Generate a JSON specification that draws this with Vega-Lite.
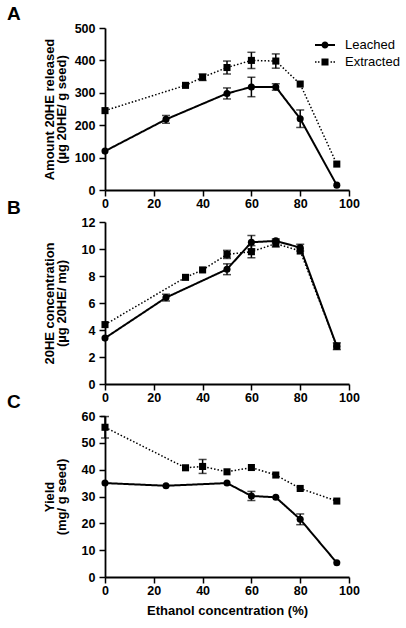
{
  "$schema": "https://vega.github.io/schema/vega-lite/v6.json",
  "autosize": {"type": "pad"},
  "padding": {"left": 7, "top": 5, "right": 5, "bottom": 5},
  "background": "white",
  "config": {
    "view": {"stroke": null},
    "font": "Liberation Sans",
    "axis": {
      "domainColor": "black", "domainWidth": 1.8, "tickColor": "black", "tickWidth": 1.5, "tickSize": 6,
      "labelFont": "Liberation Sans", "labelFontSize": 12.5, "labelFontWeight": "bold", "labelColor": "black",
      "titleFont": "Liberation Sans", "titleFontSize": 13, "titleFontWeight": "bold", "titleColor": "black",
      "grid": false, "labelFlush": false, "labelOverlap": false
    },
    "axisX": {"labelPadding": 1},
    "axisY": {"labelPadding": 4, "titleX": -52, "titleAngle": -90, "titleAlign": "center", "titleBaseline": "alphabetic", "titleLineHeight": 12.5}
  },
  "datasets": {
    "d": [
      {"panel": "A", "group": "Leached", "x": 0, "y": 120},
      {"panel": "A", "group": "Leached", "x": 25, "y": 218, "lo": 206, "hi": 230},
      {"panel": "A", "group": "Leached", "x": 50, "y": 298, "lo": 281, "hi": 315},
      {"panel": "A", "group": "Leached", "x": 60, "y": 318, "lo": 288, "hi": 348},
      {"panel": "A", "group": "Leached", "x": 70, "y": 318, "lo": 308, "hi": 328},
      {"panel": "A", "group": "Leached", "x": 80, "y": 220, "lo": 193, "hi": 247},
      {"panel": "A", "group": "Leached", "x": 95, "y": 15},
      {"panel": "A", "group": "Extracted", "x": 0, "y": 245},
      {"panel": "A", "group": "Extracted", "x": 33, "y": 323},
      {"panel": "A", "group": "Extracted", "x": 40, "y": 348, "lo": 338, "hi": 358},
      {"panel": "A", "group": "Extracted", "x": 50, "y": 378, "lo": 358, "hi": 398},
      {"panel": "A", "group": "Extracted", "x": 60, "y": 400, "lo": 375, "hi": 425},
      {"panel": "A", "group": "Extracted", "x": 70, "y": 398, "lo": 376, "hi": 420},
      {"panel": "A", "group": "Extracted", "x": 80, "y": 327},
      {"panel": "A", "group": "Extracted", "x": 95, "y": 80},
      {"panel": "B", "group": "Leached", "x": 0, "y": 3.4},
      {"panel": "B", "group": "Leached", "x": 25, "y": 6.4, "lo": 6.15, "hi": 6.65},
      {"panel": "B", "group": "Leached", "x": 50, "y": 8.5, "lo": 8.1, "hi": 8.9},
      {"panel": "B", "group": "Leached", "x": 60, "y": 10.5, "lo": 10.0, "hi": 11.0},
      {"panel": "B", "group": "Leached", "x": 70, "y": 10.6, "lo": 10.45, "hi": 10.75},
      {"panel": "B", "group": "Leached", "x": 80, "y": 10.1, "lo": 9.85, "hi": 10.35},
      {"panel": "B", "group": "Leached", "x": 95, "y": 2.8, "lo": 2.55, "hi": 3.05},
      {"panel": "B", "group": "Extracted", "x": 0, "y": 4.4},
      {"panel": "B", "group": "Extracted", "x": 33, "y": 7.9},
      {"panel": "B", "group": "Extracted", "x": 40, "y": 8.45},
      {"panel": "B", "group": "Extracted", "x": 50, "y": 9.6, "lo": 9.3, "hi": 9.9},
      {"panel": "B", "group": "Extracted", "x": 60, "y": 9.8, "lo": 9.35, "hi": 10.25},
      {"panel": "B", "group": "Extracted", "x": 70, "y": 10.4, "lo": 10.15, "hi": 10.65},
      {"panel": "B", "group": "Extracted", "x": 80, "y": 9.85},
      {"panel": "B", "group": "Extracted", "x": 95, "y": 2.8},
      {"panel": "C", "group": "Leached", "x": 0, "y": 35},
      {"panel": "C", "group": "Leached", "x": 25, "y": 34},
      {"panel": "C", "group": "Leached", "x": 50, "y": 35},
      {"panel": "C", "group": "Leached", "x": 60, "y": 30.2, "lo": 28.5, "hi": 31.9},
      {"panel": "C", "group": "Leached", "x": 70, "y": 29.7},
      {"panel": "C", "group": "Leached", "x": 80, "y": 21.5, "lo": 19.5, "hi": 23.5},
      {"panel": "C", "group": "Leached", "x": 95, "y": 5.3},
      {"panel": "C", "group": "Extracted", "x": 0, "y": 55.8, "lo": 51.8, "hi": 59.8},
      {"panel": "C", "group": "Extracted", "x": 33, "y": 40.7},
      {"panel": "C", "group": "Extracted", "x": 40, "y": 41.2, "lo": 38.6, "hi": 43.8},
      {"panel": "C", "group": "Extracted", "x": 50, "y": 39.2},
      {"panel": "C", "group": "Extracted", "x": 60, "y": 40.8},
      {"panel": "C", "group": "Extracted", "x": 70, "y": 38},
      {"panel": "C", "group": "Extracted", "x": 80, "y": 33},
      {"panel": "C", "group": "Extracted", "x": 95, "y": 28.3}
    ]
  },
  "data": {"name": "d"},
  "bounds": "flush",
  "spacing": 32,
  "resolve": {"scale": {"shape": "independent"}, "legend": {"shape": "independent"}},
  "vconcat": [
    {
      "width": 244, "height": 162,
      "title": {"text": "A", "anchor": "start", "frame": "group", "dx": -98, "offset": -2, "fontSize": 19, "fontWeight": "bold", "font": "Liberation Sans", "color": "black"},
      "transform": [{"filter": "datum.panel === 'A'"}],
      "encoding": {"x": {"field": "x", "type": "quantitative", "scale": {"domain": [0, 100], "nice": false}, "axis": {"title": null, "values": [0, 20, 40, 60, 80, 100]}}},
      "layer": [
        {"mark": {"type": "line", "color": "black"},
         "encoding": {
           "y": {"field": "y", "type": "quantitative", "scale": {"domain": [0, 500], "nice": false}, "axis": {"title": ["Amount 20HE released", "(µg 20HE/ g seed)"], "values": [0, 100, 200, 300, 400, 500], "titleY": 81}},
           "strokeDash": {"field": "group", "type": "nominal", "scale": {"domain": ["Leached", "Extracted"], "range": [[1, 0], [1.5, 2]]}, "legend": null},
           "strokeWidth": {"field": "group", "type": "nominal", "scale": {"domain": ["Leached", "Extracted"], "range": [2, 1.5]}, "legend": null}
         }},
        {"transform": [{"filter": "isValid(datum.lo)"}], "mark": {"type": "rule", "color": "black", "strokeWidth": 1.5},
         "encoding": {"y": {"field": "lo", "type": "quantitative", "axis": {"title": ["Amount 20HE released", "(µg 20HE/ g seed)"], "values": [0, 100, 200, 300, 400, 500], "titleY": 81}}, "y2": {"field": "hi"}}},
        {"transform": [{"filter": "isValid(datum.lo)"}], "mark": {"type": "tick", "orient": "horizontal", "color": "black", "size": 8, "thickness": 1.5},
         "encoding": {"y": {"field": "lo", "type": "quantitative", "axis": {"title": ["Amount 20HE released", "(µg 20HE/ g seed)"], "values": [0, 100, 200, 300, 400, 500], "titleY": 81}}}},
        {"transform": [{"filter": "isValid(datum.lo)"}], "mark": {"type": "tick", "orient": "horizontal", "color": "black", "size": 8, "thickness": 1.5},
         "encoding": {"y": {"field": "hi", "type": "quantitative", "axis": {"title": ["Amount 20HE released", "(µg 20HE/ g seed)"], "values": [0, 100, 200, 300, 400, 500], "titleY": 81}}}},
        {"transform": [{"filter": "datum.group === 'Leached'"}], "mark": {"type": "point", "shape": "circle", "filled": true, "color": "black", "opacity": 1, "size": 50},
         "encoding": {"y": {"field": "y", "type": "quantitative", "axis": {"title": ["Amount 20HE released", "(µg 20HE/ g seed)"], "values": [0, 100, 200, 300, 400, 500], "titleY": 81}}}},
        {"transform": [{"filter": "datum.group === 'Extracted'"}], "mark": {"type": "point", "shape": "square", "filled": true, "color": "black", "opacity": 1, "size": 50},
         "encoding": {"y": {"field": "y", "type": "quantitative", "axis": {"title": ["Amount 20HE released", "(µg 20HE/ g seed)"], "values": [0, 100, 200, 300, 400, 500], "titleY": 81}}}},
        {"mark": {"type": "point", "filled": true, "color": "black", "opacity": 0, "size": 256},
         "encoding": {
           "y": {"field": "y", "type": "quantitative", "axis": {"title": ["Amount 20HE released", "(µg 20HE/ g seed)"], "values": [0, 100, 200, 300, 400, 500], "titleY": 81}},
           "shape": {"field": "group", "type": "nominal", "scale": {"domain": ["Leached", "Extracted"], "range": ["M-1.25,-0.125H1.25V0.125H-1.25Z M-0.44,0A0.44,0.44 0 1,1 0.44,0A0.44,0.44 0 1,1 -0.44,0Z", "M-1.25,-0.09H-1.06V0.09H-1.25Z M-0.88,-0.09H-0.69V0.09H-0.88Z M0.69,-0.09H0.88V0.09H0.69Z M1.06,-0.09H1.25V0.09H1.06Z M-0.44,-0.44H0.44V0.44H-0.44Z"]},
             "legend": {"orient": "none", "legendX": 212, "legendY": 9, "title": null, "padding": 0, "labelFont": "Liberation Sans", "labelFontSize": 13, "labelFontWeight": "normal", "labelColor": "black", "symbolSize": 256, "symbolFillColor": "black", "symbolStrokeColor": "black", "symbolStrokeWidth": 0, "symbolOpacity": 1, "labelOffset": 12, "rowPadding": 2,
               "encode": {"symbols": {"update": {"fill": {"value": "black"}, "opacity": {"value": 1}, "fillOpacity": {"value": 1}}}}}}
         }}
      ]
    },
    {
      "width": 244, "height": 162,
      "title": {"text": "B", "anchor": "start", "frame": "group", "dx": -98, "offset": -2, "fontSize": 19, "fontWeight": "bold", "font": "Liberation Sans", "color": "black"},
      "transform": [{"filter": "datum.panel === 'B'"}],
      "encoding": {"x": {"field": "x", "type": "quantitative", "scale": {"domain": [0, 100], "nice": false}, "axis": {"title": null, "values": [0, 20, 40, 60, 80, 100]}}},
      "layer": [
        {"mark": {"type": "line", "color": "black"},
         "encoding": {
           "y": {"field": "y", "type": "quantitative", "scale": {"domain": [0, 12], "nice": false}, "axis": {"title": ["20HE concentration", "(µg 20HE/ mg)"], "values": [0, 2, 4, 6, 8, 10, 12], "titleY": 81}},
           "strokeDash": {"field": "group", "type": "nominal", "scale": {"domain": ["Leached", "Extracted"], "range": [[1, 0], [1.5, 2]]}, "legend": null},
           "strokeWidth": {"field": "group", "type": "nominal", "scale": {"domain": ["Leached", "Extracted"], "range": [2, 1.5]}, "legend": null}
         }},
        {"transform": [{"filter": "isValid(datum.lo)"}], "mark": {"type": "rule", "color": "black", "strokeWidth": 1.5},
         "encoding": {"y": {"field": "lo", "type": "quantitative", "axis": {"title": ["20HE concentration", "(µg 20HE/ mg)"], "values": [0, 2, 4, 6, 8, 10, 12], "titleY": 81}}, "y2": {"field": "hi"}}},
        {"transform": [{"filter": "isValid(datum.lo)"}], "mark": {"type": "tick", "orient": "horizontal", "color": "black", "size": 8, "thickness": 1.5},
         "encoding": {"y": {"field": "lo", "type": "quantitative", "axis": {"title": ["20HE concentration", "(µg 20HE/ mg)"], "values": [0, 2, 4, 6, 8, 10, 12], "titleY": 81}}}},
        {"transform": [{"filter": "isValid(datum.lo)"}], "mark": {"type": "tick", "orient": "horizontal", "color": "black", "size": 8, "thickness": 1.5},
         "encoding": {"y": {"field": "hi", "type": "quantitative", "axis": {"title": ["20HE concentration", "(µg 20HE/ mg)"], "values": [0, 2, 4, 6, 8, 10, 12], "titleY": 81}}}},
        {"transform": [{"filter": "datum.group === 'Leached'"}], "mark": {"type": "point", "shape": "circle", "filled": true, "color": "black", "opacity": 1, "size": 50},
         "encoding": {"y": {"field": "y", "type": "quantitative", "axis": {"title": ["20HE concentration", "(µg 20HE/ mg)"], "values": [0, 2, 4, 6, 8, 10, 12], "titleY": 81}}}},
        {"transform": [{"filter": "datum.group === 'Extracted'"}], "mark": {"type": "point", "shape": "square", "filled": true, "color": "black", "opacity": 1, "size": 50},
         "encoding": {"y": {"field": "y", "type": "quantitative", "axis": {"title": ["20HE concentration", "(µg 20HE/ mg)"], "values": [0, 2, 4, 6, 8, 10, 12], "titleY": 81}}}}
      ]
    },
    {
      "width": 244, "height": 161,
      "title": {"text": "C", "anchor": "start", "frame": "group", "dx": -98, "offset": -2, "fontSize": 19, "fontWeight": "bold", "font": "Liberation Sans", "color": "black"},
      "transform": [{"filter": "datum.panel === 'C'"}],
      "encoding": {"x": {"field": "x", "type": "quantitative", "scale": {"domain": [0, 100], "nice": false}, "axis": {"title": "Ethanol concentration (%)", "titlePadding": 8, "values": [0, 20, 40, 60, 80, 100]}}},
      "layer": [
        {"mark": {"type": "line", "color": "black"},
         "encoding": {
           "y": {"field": "y", "type": "quantitative", "scale": {"domain": [0, 60], "nice": false}, "axis": {"title": ["Yield", "(mg/ g seed)"], "values": [0, 10, 20, 30, 40, 50, 60], "titleY": 80.5}},
           "strokeDash": {"field": "group", "type": "nominal", "scale": {"domain": ["Leached", "Extracted"], "range": [[1, 0], [1.5, 2]]}, "legend": null},
           "strokeWidth": {"field": "group", "type": "nominal", "scale": {"domain": ["Leached", "Extracted"], "range": [2, 1.5]}, "legend": null}
         }},
        {"transform": [{"filter": "isValid(datum.lo)"}], "mark": {"type": "rule", "color": "black", "strokeWidth": 1.5},
         "encoding": {"y": {"field": "lo", "type": "quantitative", "axis": {"title": ["Yield", "(mg/ g seed)"], "values": [0, 10, 20, 30, 40, 50, 60], "titleY": 80.5}}, "y2": {"field": "hi"}}},
        {"transform": [{"filter": "isValid(datum.lo)"}], "mark": {"type": "tick", "orient": "horizontal", "color": "black", "size": 8, "thickness": 1.5},
         "encoding": {"y": {"field": "lo", "type": "quantitative", "axis": {"title": ["Yield", "(mg/ g seed)"], "values": [0, 10, 20, 30, 40, 50, 60], "titleY": 80.5}}}},
        {"transform": [{"filter": "isValid(datum.lo)"}], "mark": {"type": "tick", "orient": "horizontal", "color": "black", "size": 8, "thickness": 1.5},
         "encoding": {"y": {"field": "hi", "type": "quantitative", "axis": {"title": ["Yield", "(mg/ g seed)"], "values": [0, 10, 20, 30, 40, 50, 60], "titleY": 80.5}}}},
        {"transform": [{"filter": "datum.group === 'Leached'"}], "mark": {"type": "point", "shape": "circle", "filled": true, "color": "black", "opacity": 1, "size": 50},
         "encoding": {"y": {"field": "y", "type": "quantitative", "axis": {"title": ["Yield", "(mg/ g seed)"], "values": [0, 10, 20, 30, 40, 50, 60], "titleY": 80.5}}}},
        {"transform": [{"filter": "datum.group === 'Extracted'"}], "mark": {"type": "point", "shape": "square", "filled": true, "color": "black", "opacity": 1, "size": 50},
         "encoding": {"y": {"field": "y", "type": "quantitative", "axis": {"title": ["Yield", "(mg/ g seed)"], "values": [0, 10, 20, 30, 40, 50, 60], "titleY": 80.5}}}}
      ]
    }
  ]
}
